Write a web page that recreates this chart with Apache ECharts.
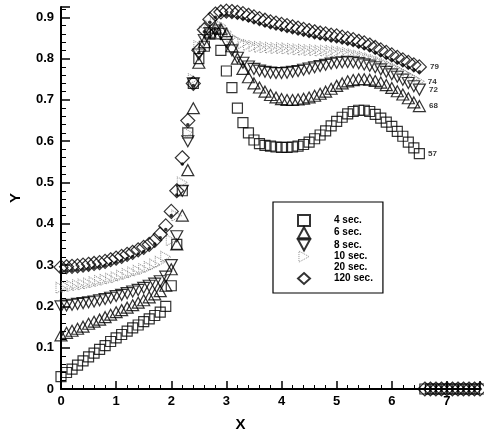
<!DOCTYPE html>
<html>
<head>
<meta charset="utf-8">
<script src="https://cdn.jsdelivr.net/npm/echarts@6/dist/echarts.min.js"></script>
<style>html,body{margin:0;padding:0;background:#fff}#c{width:484px;height:437px}</style>
</head>
<body>
<div id="c"></div>
<script>
// x positions 0.0 .. 6.5 step 0.1
var xs = [];
for (var i = 0; i <= 65; i++) xs.push(+(i / 10).toFixed(1));
var names = ['4 sec.', '6 sec.', '8 sec.', '10 sec.', '20 sec.', '120 sec.'];
var y4 = [.030,.040,.048,.058,.068,.078,.087,.096,.105,.115,.124,.132,.140,.148,.155,.163,.170,.178,.186,.200,
  .250,.350,.480,.620,.740,.800,.830,.860,.860,.820,.770,.730,.680,.645,.620,.603,.594,.590,.588,.586,
  .585,.585,.586,.588,.592,.598,.606,.615,.625,.637,.648,.658,.666,.672,.675,.675,.672,.665,.656,.646,
  .636,.624,.612,.598,.584,.570];
var y6 = [.130,.136,.141,.146,.151,.158,.163,.168,.174,.180,.186,.191,.197,.203,.209,.215,.222,.229,.237,.250,
  .290,.350,.420,.530,.680,.790,.840,.865,.875,.872,.860,.830,.800,.775,.755,.740,.730,.720,.712,.706,
  .702,.700,.700,.701,.703,.706,.710,.715,.720,.727,.734,.740,.745,.748,.750,.750,.749,.746,.742,.736,
  .729,.721,.713,.704,.694,.685];
var y8 = [.200,.202,.204,.206,.208,.210,.212,.215,.218,.221,.225,.228,.232,.236,.240,.245,.250,.255,.261,.272,
  .300,.370,.480,.600,.740,.810,.845,.862,.868,.860,.840,.820,.802,.790,.781,.775,.771,.768,.766,.765,
  .765,.766,.768,.770,.773,.776,.779,.782,.785,.788,.790,.791,.792,.791,.789,.786,.783,.779,.774,.768,
  .762,.756,.749,.741,.733,.725];
var y10 = [.245,.247,.249,.251,.253,.255,.258,.261,.264,.267,.270,.274,.278,.282,.286,.290,.295,.301,.308,.320,
  .360,.420,.500,.620,.750,.830,.865,.880,.885,.880,.865,.852,.843,.837,.833,.830,.828,.827,.826,.825,
  .825,.824,.823,.822,.821,.820,.820,.819,.819,.818,.817,.815,.813,.810,.807,.804,.800,.796,.791,.786,
  .780,.774,.767,.760,.752,.745];
var y20 = [.285,.286,.287,.288,.290,.292,.294,.296,.299,.303,.307,.311,.316,.321,.327,.333,.341,.351,.366,.386,
  .420,.470,.545,.640,.735,.815,.865,.888,.900,.905,.905,.903,.900,.897,.893,.889,.885,.881,.877,.874,
  .871,.868,.865,.862,.859,.856,.853,.850,.848,.845,.843,.840,.837,.834,.830,.826,.821,.815,.809,.803,
  .797,.791,.785,.779,.773,.768];
var y120 = [.295,.296,.297,.298,.300,.302,.304,.306,.309,.313,.317,.321,.326,.331,.337,.343,.350,.360,.375,.395,
  .430,.480,.560,.650,.740,.820,.870,.895,.908,.913,.915,.914,.912,.909,.905,.901,.897,.893,.889,.886,
  .883,.880,.877,.874,.871,.868,.865,.862,.860,.857,.855,.852,.849,.846,.842,.838,.833,.827,.821,.815,
  .809,.803,.797,.791,.785,.780];
// points lying on the x axis beyond x = 6.5
var tailX = [6.6,6.7,6.8,6.9,7.0,7.1,7.2,7.3,7.4,7.5,7.6];
var tailY = [0,0,0,0,0,0,0,0,0,0,0];
// end labels
var endLabels = {'4 sec.': '57', '6 sec.': '68', '8 sec.': '72', '10 sec.': '74', '120 sec.': '79'};
var yTicks = [0,0.1,0.2,0.3,0.4,0.5,0.6,0.7,0.8,0.9];
var xTicks = [0,1,2,3,4,5,6,7];

function build(name, ys, withTail) {
  var d = xs.map(function (x, i) { return [x, ys[i]]; });
  if (endLabels[name]) {
    var last = d[d.length - 1];
    d[d.length - 1] = {value: last, label: {show: true, formatter: endLabels[name], position: 'right',
      distance: 3, fontSize: 8, fontWeight: 'bold', color: '#000', fontFamily: 'Liberation Sans'}};
  }
  if (withTail) tailX.forEach(function (x, i) { d.push([x, tailY[i]]); });
  return d;
}
var open = {color: 'rgba(255,255,255,0)', borderColor: '#000', borderWidth: 1.2};
var series = [
  {name: names[0], type: 'scatter', symbol: 'rect', symbolSize: 10, itemStyle: open, data: build(names[0], y4, true)},
  {name: names[1], type: 'scatter', symbol: 'triangle', symbolSize: [12, 11], itemStyle: open, data: build(names[1], y6, false)},
  {name: names[2], type: 'scatter', symbol: 'triangle', symbolRotate: 180, symbolSize: [12, 11], itemStyle: open, data: build(names[2], y8, false)},
  {name: names[3], type: 'scatter', symbol: 'triangle', symbolRotate: -90, symbolSize: [11, 10],
    itemStyle: {color: 'rgba(255,255,255,0)', borderColor: '#777', borderWidth: 1, borderType: 'dotted'}, data: build(names[3], y10, false)},
  {name: names[4], type: 'scatter', symbol: 'circle', symbolSize: 3.5, itemStyle: {color: '#000'}, data: build(names[4], y20, false)},
  {name: names[5], type: 'scatter', symbol: 'diamond', symbolSize: 14, itemStyle: open, data: build(names[5], y120, true)}
];
series.forEach(function (s) { s.emphasis = {disabled: true}; s.clip = false; });

var legendIcons = ['rect', 'triangle', 'path://M0,0 L12,0 L6,11 Z', 'path://M0,0 L11,6 L0,12 Z', 'circle', 'diamond'];
var chart = echarts.init(document.getElementById('c'), null, {renderer: 'canvas'});
chart.setOption({
  animation: false,
  backgroundColor: '#fff',
  grid: {left: 60, right: 4, top: 7, bottom: 48, containLabel: false},
  legend: {
    orient: 'vertical', left: 273, top: 202,
    data: names.map(function (n, i) {
      var it = {name: n, icon: legendIcons[i]};
      if (n === '20 sec.') it.itemStyle = {opacity: 0};
      if (n === '10 sec.') it.itemStyle = {color: 'rgba(255,255,255,0)', borderColor: '#777', borderWidth: 1, borderType: 'dotted'};
      return it;
    }),
    itemWidth: 12, itemHeight: 11, itemGap: -0.8,
    padding: [12, 10, 8, 24],
    borderColor: '#000', borderWidth: 1.2,
    textStyle: {fontSize: 10, lineHeight: 11, fontWeight: 'bold', color: '#000', fontFamily: 'Liberation Sans', padding: [0, 0, 0, 19]},
    selectedMode: false
  },
  xAxis: {
    type: 'value', min: 0, max: 7.6, interval: 1,
    name: 'X', nameLocation: 'middle', nameGap: 28,
    nameTextStyle: {fontSize: 15, fontWeight: 'bold', color: '#000', fontFamily: 'Liberation Sans', padding: [0, 60, 0, 0]},
    axisLine: {lineStyle: {color: '#000', width: 2}},
    axisTick: {inside: true, length: 8, lineStyle: {color: '#000', width: 1.5}},
    minorTick: {show: true, splitNumber: 5, length: 4, lineStyle: {color: '#000', width: 1}},
    splitLine: {show: false},
    axisLabel: {showMaxLabel: false, margin: 6, fontSize: 13, fontWeight: 'bold', color: '#000', fontFamily: 'Liberation Sans',
      formatter: function (v) { return xTicks.indexOf(v) >= 0 ? String(v) : ''; }}
  },
  yAxis: {
    type: 'value', min: 0, max: 0.925, interval: 0.1,
    name: 'Y', nameLocation: 'middle', nameGap: 38,
    nameTextStyle: {fontSize: 15, fontWeight: 'bold', color: '#000', fontFamily: 'Liberation Sans'},
    axisLine: {lineStyle: {color: '#000', width: 2}},
    axisTick: {inside: true, length: 9, lineStyle: {color: '#000', width: 1.5}},
    minorTick: {show: true, splitNumber: 5, length: 5, lineStyle: {color: '#000', width: 1}},
    splitLine: {show: false},
    axisLabel: {showMaxLabel: false, margin: 7, fontSize: 13, fontWeight: 'bold', color: '#000', fontFamily: 'Liberation Sans',
      formatter: function (v) { var r = Math.round(v * 10) / 10; return yTicks.indexOf(r) >= 0 && Math.abs(r - v) < 1e-6 ? String(r) : ''; }}
  },
  series: series
});
</script>
</body>
</html>
